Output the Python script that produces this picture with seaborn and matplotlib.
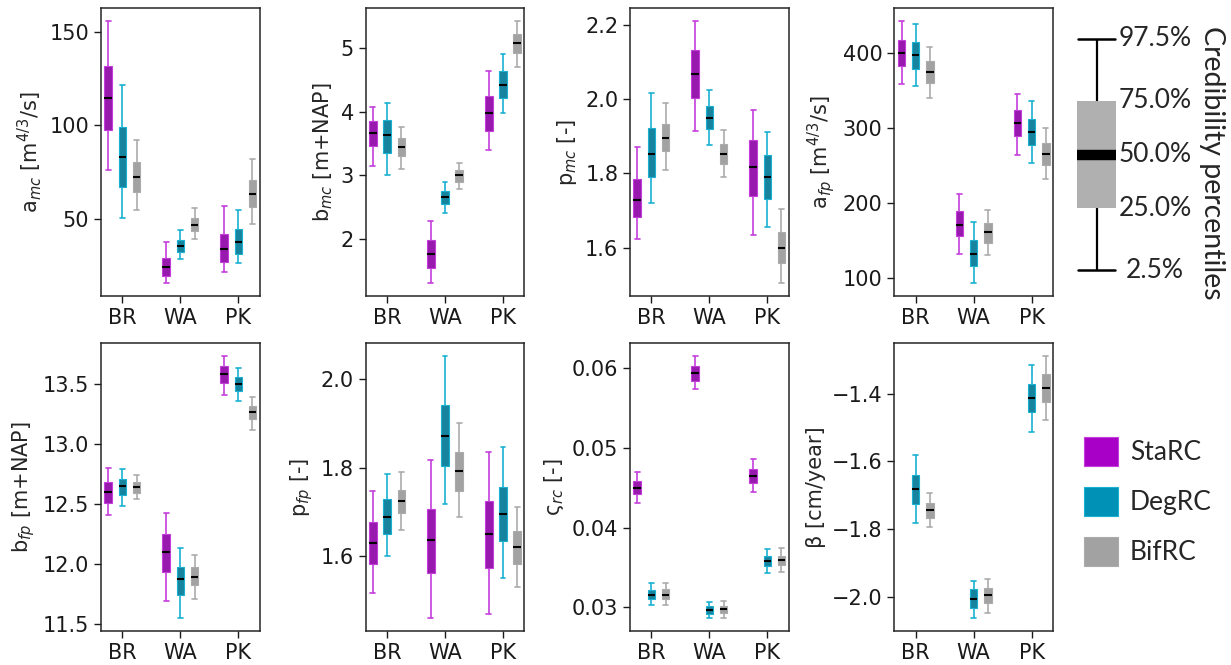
import numpy as np
import pandas as pd
import matplotlib
matplotlib.use("Agg")
import matplotlib.pyplot as plt
from matplotlib.patches import Patch
from matplotlib.transforms import blended_transform_factory
import seaborn as sns

# ---------------- data (percentiles 2.5, 25, 50, 75, 97.5) ----------------
sites = ["BR", "WA", "PK"]
models = ["StaRC", "DegRC", "BifRC"]
percentile_labels = ["2.5%", "25.0%", "50.0%", "75.0%", "97.5%"]

a_mc_sta = [[76.2, 97.8, 114.8, 131.6, 155.7], [15.7, 19.6, 24.1, 28.9, 37.5], [21.3, 26.8, 33.9, 42.1, 56.6]]
a_mc_deg = [[50.2, 67.1, 82.9, 99.0, 121.8], [28.6, 32.1, 35.5, 38.8, 43.8], [26.1, 31.3, 37.3, 44.3, 54.6]]
a_mc_bif = [[54.6, 64.3, 72.1, 80.2, 92.1], [39.1, 43.4, 46.8, 50.5, 55.9], [47.3, 56.3, 63.4, 70.9, 82.1]]

b_mc_sta = [[3.14, 3.46, 3.67, 3.85, 4.07], [1.32, 1.55, 1.77, 1.99, 2.28], [3.40, 3.69, 3.97, 4.25, 4.63]]
b_mc_deg = [[3.00, 3.35, 3.63, 3.86, 4.13], [2.42, 2.55, 2.67, 2.76, 2.90], [3.98, 4.21, 4.41, 4.63, 4.90]]
b_mc_bif = [[3.10, 3.30, 3.45, 3.59, 3.76], [2.79, 2.90, 3.00, 3.09, 3.20], [4.70, 4.92, 5.07, 5.22, 5.41]]

p_mc_sta = [[1.622, 1.683, 1.729, 1.784, 1.870], [1.913, 2.002, 2.067, 2.131, 2.209], [1.635, 1.738, 1.816, 1.889, 1.970]]
p_mc_deg = [[1.719, 1.791, 1.852, 1.921, 2.017], [1.876, 1.918, 1.948, 1.981, 2.023], [1.656, 1.730, 1.791, 1.848, 1.910]]
p_mc_bif = [[1.810, 1.859, 1.896, 1.933, 1.988], [1.791, 1.826, 1.853, 1.879, 1.916], [1.505, 1.559, 1.600, 1.642, 1.703]]

a_fp_sta = [[359, 383, 400, 417, 442], [133, 156, 171, 189, 212], [264, 289, 307, 324, 345]]
a_fp_deg = [[356, 378, 397, 414, 438], [94, 116, 133, 151, 175], [254, 277, 295, 312, 336]]
a_fp_bif = [[340, 360, 375, 389, 408], [131, 147, 161, 174, 191], [232, 251, 266, 280, 300]]

b_fp_sta = [[12.41, 12.51, 12.60, 12.68, 12.80], [11.69, 11.93, 12.10, 12.25, 12.42], [13.41, 13.51, 13.58, 13.65, 13.73]]
b_fp_deg = [[12.48, 12.57, 12.65, 12.71, 12.79], [11.55, 11.74, 11.87, 11.97, 12.13], [13.36, 13.44, 13.50, 13.56, 13.63]]
b_fp_bif = [[12.54, 12.59, 12.64, 12.685, 12.74], [11.71, 11.82, 11.89, 11.97, 12.07], [13.12, 13.21, 13.27, 13.32, 13.39]]

p_fp_sta = [[1.516, 1.583, 1.631, 1.677, 1.747], [1.461, 1.562, 1.638, 1.706, 1.817], [1.470, 1.573, 1.650, 1.724, 1.835]]
p_fp_deg = [[1.600, 1.651, 1.690, 1.730, 1.785], [1.718, 1.804, 1.871, 1.941, 2.052], [1.550, 1.634, 1.695, 1.757, 1.848]]
p_fp_bif = [[1.660, 1.697, 1.724, 1.751, 1.790], [1.688, 1.748, 1.792, 1.836, 1.901], [1.531, 1.583, 1.620, 1.658, 1.711]]

s_rc_sta = [[0.0431, 0.0442, 0.0450, 0.0459, 0.0470], [0.0574, 0.0584, 0.0594, 0.0603, 0.0615], [0.0445, 0.0456, 0.0465, 0.0474, 0.0486]]
s_rc_deg = [[0.0303, 0.0310, 0.0316, 0.0322, 0.0331], [0.0287, 0.0292, 0.0297, 0.0302, 0.0307], [0.0343, 0.0352, 0.0358, 0.0364, 0.0373]]
s_rc_bif = [[0.0303, 0.0310, 0.0316, 0.0323, 0.0331], [0.0287, 0.0293, 0.0298, 0.0302, 0.0308], [0.0344, 0.0353, 0.0359, 0.0365, 0.0375]]

beta_sta = None
beta_deg = [[-1.782, -1.725, -1.682, -1.640, -1.582], [-2.061, -2.031, -2.006, -1.976, -1.952], [-1.514, -1.455, -1.413, -1.370, -1.315]]
beta_bif = [[-1.793, -1.767, -1.743, -1.723, -1.694], [-2.046, -2.018, -1.995, -1.973, -1.946], [-1.478, -1.426, -1.384, -1.343, -1.290]]

ylabels = [r"a$_{mc}$ [m$^{4/3}$/s]", r"b$_{mc}$ [m+NAP]", r"p$_{mc}$ [-]", r"a$_{fp}$ [m$^{4/3}$/s]",
           r"b$_{fp}$ [m+NAP]", r"p$_{fp}$ [-]", r"ς$_{rc}$ [-]", r"β [cm/year]"]
yticks = [[50, 100, 150], [2, 3, 4, 5], [1.6, 1.8, 2.0, 2.2], [100, 200, 300, 400],
          [11.5, 12.0, 12.5, 13.0, 13.5], [1.6, 1.8, 2.0], [0.03, 0.04, 0.05, 0.06], [-2.0, -1.8, -1.6, -1.4]]
yticklabels = [["50", "100", "150"], ["2", "3", "4", "5"], ["1.6", "1.8", "2.0", "2.2"], ["100", "200", "300", "400"],
               ["11.5", "12.0", "12.5", "13.0", "13.5"], ["1.6", "1.8", "2.0"], ["0.03", "0.04", "0.05", "0.06"],
               ["\u22122.0", "\u22121.8", "\u22121.6", "\u22121.4"]]

# schematic of the percentile box (arbitrary illustrative scale)
schematic_vals = [-2.15, -1.0, 0.0, 1.0, 2.15]

# ---------------- styling ----------------
fill_colors = {"StaRC": "#a800c6", "DegRC": "#0092b6", "BifRC": "#a2a2a2"}
line_colors = {"StaRC": "#c43ddb", "DegRC": "#1ab0d2", "BifRC": "#ababab"}

sns.set_style("ticks", {"axes.edgecolor": "#262626", "xtick.color": "#262626", "ytick.color": "#262626"})
plt.rcParams["font.family"] = ["DejaVu Sans"]
plt.rcParams["axes.linewidth"] = 1.1
plt.rcParams["xtick.major.size"] = 5
plt.rcParams["ytick.major.size"] = 5
plt.rcParams["xtick.major.width"] = 1.0
plt.rcParams["ytick.major.width"] = 1.0

W, H = 1231, 665
fig = plt.figure(figsize=(W / 100, H / 100), dpi=100)

col_left = [101, 365.7, 630, 894.3]
ax_w = 158.7
row_top = [8.3, 343.3]
ax_h = 287.6

panels = [
    (a_mc_sta, a_mc_deg, a_mc_bif), (b_mc_sta, b_mc_deg, b_mc_bif),
    (p_mc_sta, p_mc_deg, p_mc_bif), (a_fp_sta, a_fp_deg, a_fp_bif),
    (b_fp_sta, b_fp_deg, b_fp_bif), (p_fp_sta, p_fp_deg, p_fp_bif),
    (s_rc_sta, s_rc_deg, s_rc_bif), (beta_sta, beta_deg, beta_bif),
]

def to_frame(sets):
    rows = []
    for model, vals in zip(models, sets):
        if vals is None:
            continue
        for site, pct in zip(sites, vals):
            for v in pct:
                rows.append({"site": site, "model": model, "value": v})
    return pd.DataFrame(rows)

def scale_caps(ax, factor):
    for ln in ax.lines:
        if ln.get_gid() == "cap":
            x = np.asarray(ln.get_xdata(), dtype=float)
            c = x.mean()
            ln.set_xdata(c + (x - c) * factor)

for i, sets in enumerate(panels):
    r, c = divmod(i, 4)
    left = col_left[c] / W
    bottom = 1 - (row_top[r] + ax_h) / H
    ax = fig.add_axes([left, bottom, ax_w / W, ax_h / H])
    df = to_frame(sets)
    for m in models:
        sub = df[df["model"] == m]
        if sub.empty:
            continue
        sns.boxplot(data=sub, x="site", y="value", hue="model", order=sites, hue_order=models,
                    palette=fill_colors, dodge=True, width=0.735, gap=0.47,
                    whis=(0, 100), showfliers=False, linewidth=1.1,
                    boxprops=dict(edgecolor=line_colors[m], linewidth=0.8),
                    whiskerprops=dict(color=line_colors[m], linewidth=1.2),
                    capprops=dict(color=line_colors[m], linewidth=1.2, gid="cap"),
                    medianprops=dict(color="black", linewidth=1.5),
                    legend=False, ax=ax)
    scale_caps(ax, 1.3)
    ax.set_xlim(-0.37, 2.37)
    ax.set_xlabel("")
    ax.set_ylabel(ylabels[i], fontsize=15)
    ax.set_yticks(yticks[i])
    ax.set_yticklabels(yticklabels[i])
    ax.tick_params(labelsize=15, colors="#1a1a1a")
    ax.margins(y=0.05)
    ax.relim()
    ax.autoscale_view(scalex=False)

# ---------------- percentile schematic ----------------
right_font = ["Lato", "DejaVu Sans"]
axs = fig.add_axes([1056.5 / W, 1 - 294.5 / H, 80 / W, 279.8 / H])
sns.boxplot(y=schematic_vals, ax=axs, width=0.975, whis=(0, 100), showfliers=False, color="#b0b0b0",
            boxprops=dict(edgecolor="none", facecolor="#b0b0b0"),
            whiskerprops=dict(color="black", linewidth=1.6),
            capprops=dict(color="black", linewidth=1.8, gid="cap"),
            medianprops=dict(color="black", linewidth=7.5, solid_capstyle="butt"))
scale_caps(axs, 1.9)
axs.set_xlim(-1, 1)
axs.set_ylim(-2.6, 2.6)
axs.axis("off")
tr = blended_transform_factory(fig.transFigure, axs.transData)
for v, lab in zip(schematic_vals, percentile_labels):
    fig.text(1155 / W, v, lab, transform=tr, ha="center", va="center", fontsize=19, family=right_font)
fig.text(1212 / W, 1 - 163 / H, "Credibility percentiles", rotation=-90, ha="center", va="center",
         fontsize=20.5, family=right_font)

# ---------------- colour legend ----------------
handles = [Patch(facecolor=fill_colors[m], edgecolor=line_colors[m], linewidth=0.8, label=m) for m in models]
fig.legend(handles=handles, loc="upper left", bbox_to_anchor=(1083.5 / W, 1 - 437 / H),
           frameon=False, borderpad=0, borderaxespad=0, handlelength=1.3, handleheight=1.3,
           labelspacing=0.8, handletextpad=0.45, prop={"family": right_font, "size": 19})

fig.savefig("out.png", dpi=100)
